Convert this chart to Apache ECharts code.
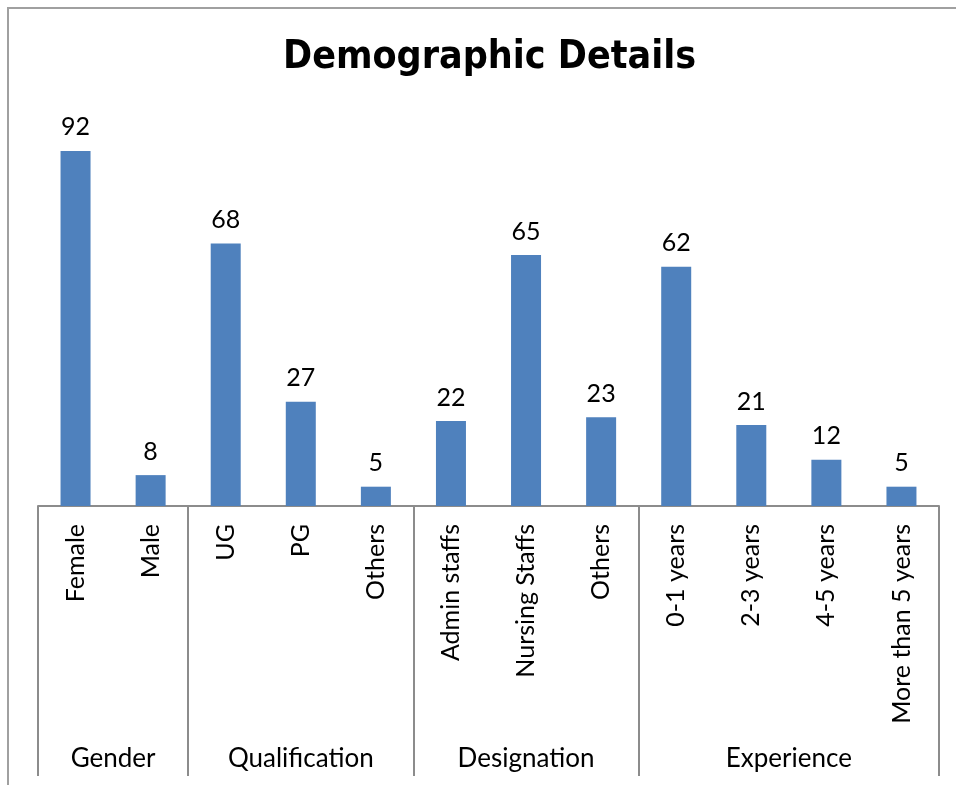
<!DOCTYPE html>
<html>
<head>
<meta charset="utf-8">
<script src="https://cdn.jsdelivr.net/npm/echarts@6/dist/echarts.min.js"></script>
<style>
  html, body { margin: 0; padding: 0; background: #fff; }
  #wrap { position: relative; width: 956px; height: 785px; overflow: hidden; }
  #frame { position: absolute; left: 7px; top: 7px; width: 1000px; height: 1000px;
    border-left: 2px solid #a0a0a0; border-top: 2px solid #a0a0a0; }
  #myChart { position: absolute; left: 0; top: 0; width: 956px; height: 785px; }
</style>
</head>
<body>
<div id="wrap">
  <div id="frame"></div>
  <div id="myChart"></div>
</div>
<script>
// 类别
var categories = ['Female', 'Male', 'UG', 'PG', 'Others', 'Admin staffs', 'Nursing Staffs', 'Others',
  '0-1 years', '2-3 years', '4-5 years', 'More than 5 years']
// 数值
var values = [92, 8, 68, 27, 5, 22, 65, 23, 62, 21, 12, 5]
// 分组
var groups = ['Gender', 'Qualification', 'Designation', 'Experience']
var groupSizes = [2, 3, 3, 4]

var FONT = 'Lato, "DejaVu Sans Condensed", sans-serif'
var TITLE_FONT = '"DejaVu Sans Condensed", sans-serif'

// 分组边界和中心
var bounds = [0]
var centers = []
groupSizes.forEach(function (n) {
  var start = bounds[bounds.length - 1]
  centers.push(start + n / 2)
  bounds.push(start + n)
})

var myChart = echarts.init(document.getElementById('myChart'))
var option = {
  animation: false,
  title: {
    text: 'Demographic Details',
    left: 278,
    top: 33,
    textStyle: { fontFamily: TITLE_FONT, fontWeight: 'bold', fontSize: 39, color: '#000' }
  },
  grid: { left: 38, right: 17, top: 120, bottom: 279 },
  xAxis: [
    {
      type: 'category',
      data: categories,
      axisLine: { lineStyle: { color: '#8c8c8c', width: 2 } },
      axisTick: { show: false },
      axisLabel: {
        rotate: 90,
        interval: 0,
        margin: 18,
        color: '#000',
        fontFamily: FONT,
        fontSize: 25
      }
    },
    {
      // 分组轴
      type: 'value',
      min: 0,
      max: bounds[bounds.length - 1],
      position: 'bottom',
      axisLine: { show: false },
      splitLine: { show: false },
      axisTick: {
        show: true,
        customValues: bounds,
        length: 270,
        lineStyle: { color: '#8c8c8c', width: 2 }
      },
      axisLabel: {
        customValues: centers,
        margin: 240,
        color: '#000',
        fontFamily: FONT,
        fontSize: 26,
        formatter: function (v) {
          var i = centers.indexOf(v)
          return i >= 0 ? groups[i] : ''
        }
      }
    }
  ],
  yAxis: {
    type: 'value',
    min: 0,
    max: 100,
    show: false,
    splitLine: { show: false }
  },
  series: [
    {
      type: 'bar',
      data: values,
      barWidth: 30,
      itemStyle: { color: '#4F81BD' },
      label: {
        show: true,
        position: 'top',
        distance: 11,
        color: '#000',
        fontFamily: FONT,
        fontSize: 25
      }
    }
  ]
}
myChart.setOption(option, true)
</script>
</body>
</html>
